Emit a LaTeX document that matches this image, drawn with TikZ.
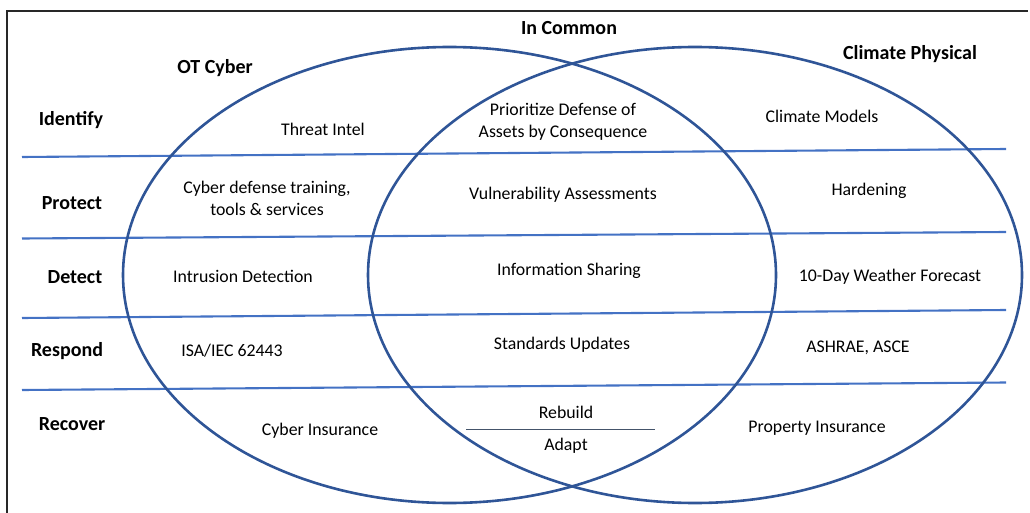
\documentclass[tikz,border=0pt]{standalone}
\usepackage{fontspec}
\setmainfont{Carlito}
\definecolor{ringblue}{RGB}{47,85,151}
\definecolor{rowblue}{RGB}{68,114,196}
\definecolor{rulegray}{RGB}{68,84,106}
\definecolor{framegray}{RGB}{40,40,40}
\begin{document}
\begin{tikzpicture}[x=1pt,y=-1pt,
  head/.style={font=\fontsize{20}{24}\selectfont\bfseries, inner sep=0pt},
  item/.style={font=\fontsize{17.8}{22}\selectfont, inner sep=0pt, align=center},
  ring/.style={draw=ringblue, line width=2.6pt},
  row/.style={draw=rowblue, line width=2.1pt}]
\useasboundingbox (0,0) rectangle (1030,513);
% outer frame (open at the right and bottom)
\draw[framegray, line width=1.4pt] (7,520) -- (7,11) -- (1028,11);
% row separators
\draw[row] (22,157) -- (1006,149);
\draw[row] (22,238.5) -- (1006,232);
\draw[row] (22,318) -- (1006,310);
\draw[row] (22,390) -- (1006,382.5);
% the two sets
\draw[ring] (449.5,275) ellipse [x radius=326.5, y radius=228];
\draw[ring] (695,275) ellipse [x radius=327, y radius=228];
% set titles
\node[head] (common) at (569,28) {In Common};
\node[head] (ot) at (215,68) {OT Cyber};
\node[head] (climate) at (910,54) {Climate Physical};
% row titles
\node[head] (identify) at (71,120) {Identify};
\node[head] (protect) at (72,203) {Protect};
\node[head] (detect) at (75,277) {Detect};
\node[head] (respond) at (67,351) {Respond};
\node[head] (recover) at (72,424) {Recover};
% Identify
\node[item] (threat) at (323,129) {Threat Intel};
\node[item] (prioritize) at (563,121.5) {Prioritize Defense of\\Assets by Consequence};
\node[item] (models) at (822,116) {Climate Models};
% Protect
\node[item] (training) at (267,198) {Cyber defense training,\\tools \& services};
\node[item] (vuln) at (563,195) {Vulnerability Assessments};
\node[item] (harden) at (869,191) {Hardening};
% Detect
\node[item] (intrusion) at (243,276) {Intrusion Detection};
\node[item] (sharing) at (569,271) {Information Sharing};
\node[item] (forecast) at (890,277) {10-Day Weather Forecast};
% Respond
\node[item] (isa) at (232,351) {ISA/IEC 62443};
\node[item] (standards) at (562,345) {Standards Updates};
\node[item] (ashrae) at (858,347.5) {ASHRAE, ASCE};
% Recover
\node[item] (cyberins) at (320,431) {Cyber Insurance};
\node[item] (rebuild) at (566,412) {Rebuild};
\node[item] (adapt) at (566,446) {Adapt};
\node[item] (propins) at (817,428) {Property Insurance};
\coordinate (divL) at (466,429);
\coordinate (divR) at (655,429);
\draw[rulegray, line width=0.9pt] (divL) -- (divR);
\end{tikzpicture}
\end{document}
